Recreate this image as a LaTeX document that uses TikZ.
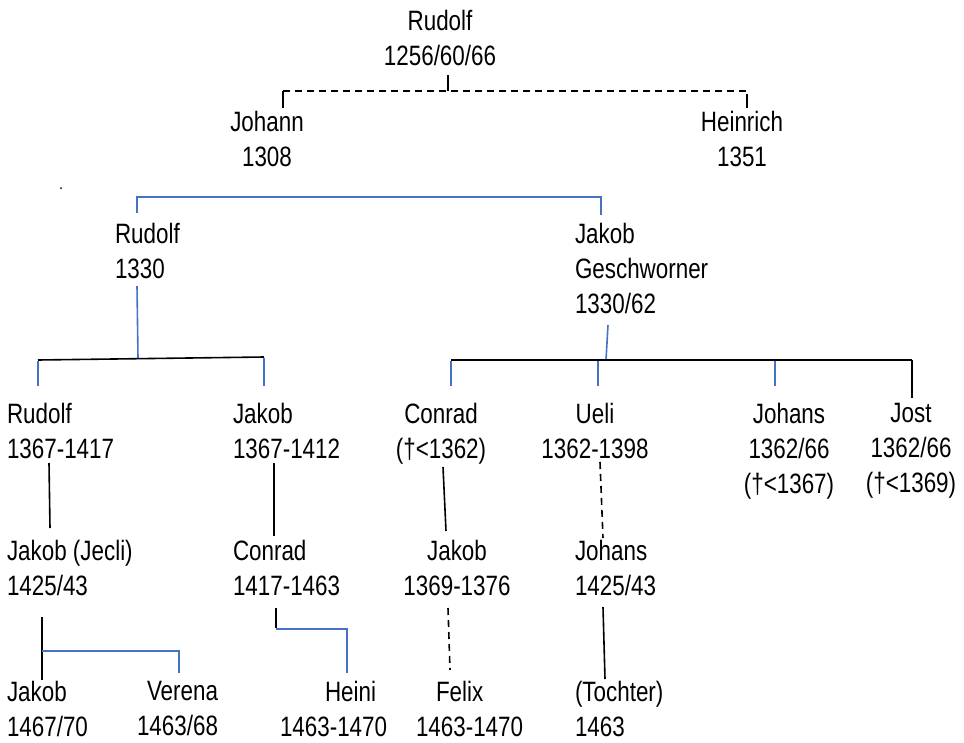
\documentclass[tikz,border=0pt]{standalone}
\usepackage{fontspec}
\setmainfont{Liberation Sans}[FakeStretch=0.8]
\definecolor{kinblue}{RGB}{68,114,196}
\tikzset{
  person/.style={inner sep=0pt, outer sep=0pt, font=\fontsize{28}{35}\selectfont},
  ln/.style={person, anchor=north west, align=left},
  cn/.style={person, anchor=north, align=center},
  rn/.style={person, anchor=north east, align=right},
  kin/.style={line width=1.6pt, black},
  blueline/.style={line width=1.6pt, kinblue},
  uncertain/.style={dash pattern=on 7pt off 5pt}
}
\begin{document}
\begin{tikzpicture}[x=1pt, y=-1pt]
\useasboundingbox (0,0) rectangle (964,742);

% generation 1 and 2
\node[cn] (rudolfA)  at (440,10)  {Rudolf\\1256/60/66};
\node[cn] (johann)   at (267,111) {Johann\\1308};
\node[cn] (heinrich) at (742,111) {Heinrich\\1351};

% generation 3
\node[ln] (rudolfB) at (115,223) {Rudolf\\1330};
\node[ln] (jakobA)  at (575,223) {Jakob\\Geschworner\\1330/62};

% generation 4
\node[ln] (rudolfC) at (7,403)   {Rudolf\\1367-1417};
\node[ln] (jakobB)  at (233,403) {Jakob\\1367-1412};
\node[cn] (conradA) at (441,403) {Conrad\\(†<1362)};
\node[cn] (ueli)    at (595,403) {Ueli\\1362-1398};
\node[cn] (johansA) at (789,403) {Johans\\1362/66\\(†<1367)};
\node[cn] (jost)    at (911,403) {Jost\\1362/66\\(†<1369)};

% generation 5
\node[ln] (jakobC)  at (7,540)   {Jakob (Jecli)\\1425/43};
\node[ln] (conradB) at (233,540) {Conrad\\1417-1463};
\node[cn] (jakobD)  at (457,540) {Jakob\\1369-1376};
\node[ln] (johansB) at (575,540) {Johans\\1425/43};

% generation 6
\node[ln] (jakobE)  at (7,681)   {Jakob\\1467/70};
\node[rn] (verena)  at (218,681) {Verena\\1463/68};
\node[ln] (heini)   at (280,681) {\hspace*{45pt}Heini\\1463-1470};
\node[ln] (felix)   at (416,681) {\hspace*{20pt}Felix\\1463-1470};
\node[ln] (tochter) at (575,681) {(Tochter)\\1463};

% stray full stop
\fill (61,188) circle (1pt);

% Rudolf 1256/60/66 -> Johann, Heinrich (uncertain descent)
\draw[kin] ([shift={(8,65)}]rudolfA.north) -- ([shift={(8,81)}]rudolfA.north);
\draw[kin,uncertain] ([shift={(16,-20)}]johann.north) -- ([shift={(5,-20)}]heinrich.north);
\draw[kin] ([shift={(16,-20)}]johann.north) -- ([shift={(16,-3)}]johann.north);
\draw[kin] ([shift={(5,-17)}]heinrich.north) -- ([shift={(5,-3)}]heinrich.north);

% brothers Rudolf 1330 and Jakob
\draw[blueline] ([shift={(22,-10)}]rudolfB.north west) -- ([shift={(22,-26)}]rudolfB.north west)
  -- ([shift={(26,-26)}]jakobA.north west) -- ([shift={(26,-8)}]jakobA.north west);

% children of Rudolf 1330
\draw[blueline] ([shift={(22,63)}]rudolfB.north west) -- ([shift={(23,135)}]rudolfB.north west);
\draw[kin] ([shift={(31,-43)}]rudolfC.north west) -- ([shift={(31,-46)}]jakobB.north west);
\draw[blueline] ([shift={(31,-42)}]rudolfC.north west) -- ([shift={(31,-17)}]rudolfC.north west);
\draw[blueline] ([shift={(31,-45)}]jakobB.north west) -- ([shift={(31,-17)}]jakobB.north west);

% children of Jakob Geschworner
\draw[blueline] ([shift={(33,102)}]jakobA.north west) -- ([shift={(31,137)}]jakobA.north west);
\draw[kin] ([shift={(10,-43)}]conradA.north) -- ([shift={(1,-43)}]jost.north);
\draw[blueline] ([shift={(10,-42)}]conradA.north) -- ([shift={(10,-17)}]conradA.north);
\draw[blueline] ([shift={(3,-42)}]ueli.north) -- ([shift={(3,-17)}]ueli.north);
\draw[blueline] ([shift={(-14,-42)}]johansA.north) -- ([shift={(-14,-17)}]johansA.north);
\draw[kin] ([shift={(1,-43)}]jost.north) -- ([shift={(1,-5)}]jost.north);

% next generation
\draw[kin] ([shift={(42,60)}]rudolfC.north west) -- ([shift={(43,-12)}]jakobC.north west);
\draw[kin] ([shift={(41,60)}]jakobB.north west) -- ([shift={(41,-4)}]conradB.north west);
\draw[kin] ([shift={(2,64)}]conradA.north) -- ([shift={(-11,-9)}]jakobD.north);
\draw[kin,uncertain] ([shift={(5,59)}]ueli.north) -- ([shift={(28,-2)}]johansB.north west);

% last generation
\draw[kin] ([shift={(35,77)}]jakobC.north west) -- ([shift={(35,-1)}]jakobE.north west);
\draw[blueline] ([shift={(35,111)}]jakobC.north west) -- ([shift={(-39,-30)}]verena.north east)
  -- ([shift={(-39,-8)}]verena.north east);
\draw[kin] ([shift={(43,68)}]conradB.north west) -- ([shift={(43,88)}]conradB.north west);
\draw[blueline] ([shift={(43,89)}]conradB.north west) -- ([shift={(67,-52)}]heini.north west)
  -- ([shift={(67,-8)}]heini.north west);
\draw[kin,uncertain] ([shift={(-9,68)}]jakobD.north) -- ([shift={(34,-11)}]felix.north west);
\draw[kin] ([shift={(28,67)}]johansB.north west) -- ([shift={(30,-2)}]tochter.north west);
\end{tikzpicture}
\end{document}
